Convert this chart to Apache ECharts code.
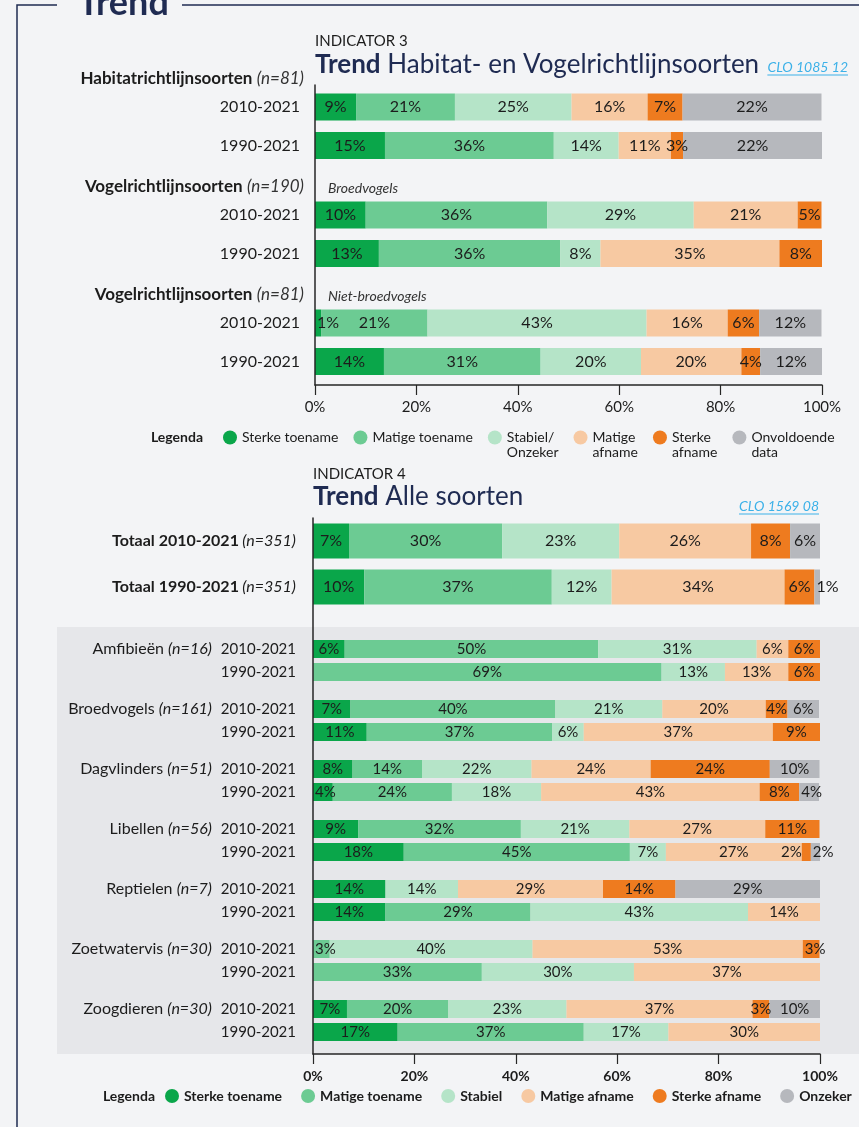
<!DOCTYPE html>
<html>
<head>
<meta charset="utf-8">
<script src="https://cdn.jsdelivr.net/npm/echarts@6/dist/echarts.min.js"></script>
<style>
html, body { margin: 0; padding: 0; background: #f3f4f6; }
#chart { width: 859px; height: 1127px; }
</style>
</head>
<body>
<div id="chart"></div>
<script>
// klassen en kleuren
var klassen3 = ['Sterke toename', 'Matige toename', 'Stabiel/Onzeker', 'Matige afname', 'Sterke afname', 'Onvoldoende data'];
var klassen3Legenda = ['Sterke toename', 'Matige toename', 'Stabiel/\nOnzeker', 'Matige\nafname', 'Sterke\nafname', 'Onvoldoende\ndata'];
var klassen4 = ['Sterke toename', 'Matige toename', 'Stabiel', 'Matige afname', 'Sterke afname', 'Onzeker'];
var kleuren = ['#0aa64a', '#6ccb93', '#b5e4c8', '#f7c9a2', '#ee7b1f', '#b6b8bd'];
var periodes = ['2010-2021', '1990-2021'];
var asLabels = [0, 20, 40, 60, 80, 100];

// indicator 3: groepen
var ind3Groepen = ['Habitatrichtlijnsoorten', 'Vogelrichtlijnsoorten', 'Vogelrichtlijnsoorten'];
var ind3Aantal = ['(n=81)', '(n=190)', '(n=81)'];
var ind3Sub = ['', 'Broedvogels', 'Niet-broedvogels'];
// balklengtes (%), rijen: H 2010, H 1990, V-broed 2010, V-broed 1990, V-niet 2010, V-niet 1990
var ind3SterkeToename = [8.1, 13.8, 10.0, 12.6, 1.2, 13.6];
var ind3MatigeToename = [19.5, 33.3, 35.8, 35.8, 21.0, 30.9];
var ind3Stabiel       = [23.0, 12.8, 28.9, 7.9, 43.2, 19.8];
var ind3MatigeAfname  = [15.0, 10.3, 20.5, 35.3, 16.0, 19.8];
var ind3SterkeAfname  = [6.9, 2.4, 4.7, 8.4, 6.2, 3.7];
var ind3Onvoldoende   = [27.4, 27.4, 0, 0, 12.3, 12.3];
// gedrukte percentages per rij
var ind3Labels = [
  [9, 21, 25, 16, 7, 22],
  [15, 36, 14, 11, 3, 22],
  [10, 36, 29, 21, 5, 0],
  [13, 36, 8, 35, 8, 0],
  [1, 21, 43, 16, 6, 12],
  [14, 31, 20, 20, 4, 12]
];

// indicator 4
var ind4Totaal = ['Totaal 2010-2021', 'Totaal 1990-2021'];
var ind4TotaalAantal = '(n=351)';
var ind4Soorten = ['Amfibieën', 'Broedvogels', 'Dagvlinders', 'Libellen', 'Reptielen', 'Zoetwatervis', 'Zoogdieren'];
var ind4Aantal = ['(n=16)', '(n=161)', '(n=51)', '(n=56)', '(n=7)', '(n=30)', '(n=30)'];
// rijen: totaal 2010, totaal 1990, daarna per soort 2010 en 1990
var ind4SterkeToename = [7.1, 10.1, 6.25, 0, 7.4, 10.6, 7.8, 3.9, 8.9, 17.9, 14.3, 14.3, 0, 0, 6.7, 16.7];
var ind4MatigeToename = [30.2, 37.0, 50.0, 68.75, 40.4, 36.6, 13.7, 23.5, 32.1, 44.6, 0, 28.6, 3.3, 33.3, 20.0, 36.7];
var ind4Stabiel       = [23.1, 11.8, 31.25, 12.5, 21.1, 6.2, 21.6, 17.6, 21.4, 7.1, 14.3, 42.9, 40.0, 30.0, 23.3, 16.7];
var ind4MatigeAfname  = [26.0, 34.1, 6.25, 12.5, 20.4, 37.3, 23.5, 43.1, 26.8, 26.8, 28.6, 14.3, 53.3, 36.7, 36.7, 30.0];
var ind4SterkeAfname  = [7.7, 5.9, 6.25, 6.25, 4.3, 9.3, 23.5, 7.8, 10.7, 1.8, 14.3, 0, 3.3, 0, 3.3, 0];
var ind4Onzeker       = [5.9, 1.1, 0, 0, 6.2, 0, 9.8, 3.9, 0, 1.8, 28.6, 0, 0, 0, 10.0, 0];

var ind3Kolommen = [ind3SterkeToename, ind3MatigeToename, ind3Stabiel, ind3MatigeAfname, ind3SterkeAfname, ind3Onvoldoende];
var ind4Kolommen = [ind4SterkeToename, ind4MatigeToename, ind4Stabiel, ind4MatigeAfname, ind4SterkeAfname, ind4Onzeker];

// opmaak
var FONT = 'Lato, "Noto Sans", sans-serif';
var NAVY = '#1f2b52';
var INK = '#1c1c1c';
var LINK = '#3cb1e8';

var i3Left = 315, i3Width = 507, i3AsTop = 85, i3AsBodem = 385;
var i3Rij0 = [107, 215, 323], i3Pitch = 38.5, i3Balk = 27;
var i4Left = 313, i4Width = 507, i4AsTop = 518, i4AsBodem = 1054;
var i4TotaalRij0 = 541, i4TotaalPitch = 46, i4TotaalBalk = 35;
var i4SoortRij0 = 649, i4SoortStap = 60, i4SoortPitch = 23, i4SoortBalk = 18;

var grids = [], xAxes = [], yAxes = [], series = [], graphics = [];

function tekstBreedte(t, font) {
  var c = document.createElement('canvas').getContext('2d');
  c.font = font;
  return c.measureText(t).width;
}

function txt(x, y, text, o) {
  o = o || {};
  var style = {
    text: text, fill: o.fill || INK,
    fontSize: o.size || 14, fontWeight: o.weight || 'normal', fontStyle: o.italic ? 'italic' : 'normal',
    fontFamily: FONT,
    align: o.align || 'left', verticalAlign: 'middle',
    textAlign: o.align || 'left', textVerticalAlign: 'middle'
  };
  if (o.rich) style.rich = o.rich;
  graphics.push({ type: 'text', x: x, y: y, z: 10, style: style });
}

// plaats van een label in een smal segment (past het label er niet in)
function labelPlek(kolommen, rij, k) {
  var v = kolommen[k][rij];
  if (v >= 4) return null;
  var eerste = true, volgende = null;
  for (var j = 0; j < kolommen.length; j++) {
    if (j < k && kolommen[j][rij] > 0) eerste = false;
    if (j > k && kolommen[j][rij] > 0 && volgende === null) volgende = kolommen[j][rij];
  }
  if (volgende === null || eerste) return { position: 'insideLeft', distance: 2 };
  if (volgende < 4) return { position: 'left', distance: 0 };
  return null;
}

// raamwerk-assen (volledige as-lijnen + tickwaarden)
function raamAssen(left, width, top, bodem, labelStyle) {
  var gi = grids.length;
  grids.push({ left: left, width: width, top: top, height: bodem - top });
  xAxes.push({
    gridIndex: gi, type: 'value', min: 0, max: 100, interval: 20, z: 5,
    axisLine: { show: true, lineStyle: { color: '#262626', width: 1.5 } },
    axisTick: { show: true, length: 10, lineStyle: { color: '#262626', width: 1.2 } },
    axisLabel: Object.assign({ margin: 15, formatter: function (v) { return asLabels.indexOf(v) >= 0 ? v + '%' : ''; }, color: INK, fontFamily: FONT }, labelStyle),
    splitLine: { show: false }
  });
  yAxes.push({
    gridIndex: gi, type: 'value', min: 0, max: 1, z: 5,
    axisLine: { show: true, lineStyle: { color: '#262626', width: 1.5 } },
    axisTick: { show: false }, axisLabel: { show: false }, splitLine: { show: false }
  });
}

// een blok van twee gestapelde balken
function balkBlok(left, width, midden0, pitch, balk, namen, kolommen, rij0, yLabels, asLabel, fontSize, labelFn) {
  var gi = grids.length;
  grids.push({ left: left, width: width, top: midden0 - pitch / 2, height: pitch * 2 });
  xAxes.push({ gridIndex: gi, type: 'value', min: 0, max: 100, show: false });
  yAxes.push({
    gridIndex: gi, type: 'category', inverse: true, data: yLabels,
    axisLine: { show: false }, axisTick: { show: false }, splitLine: { show: false },
    axisLabel: asLabel
  });
  kolommen.forEach(function (kol, k) {
    var data = [rij0, rij0 + 1].map(function (rij) {
      var item = { value: kol[rij] };
      var plek = labelPlek(kolommen, rij, k);
      if (plek) item.label = plek;
      return item;
    });
    series.push({
      type: 'bar', name: namen[k], stack: 'blok' + gi, xAxisIndex: gi, yAxisIndex: gi,
      barWidth: balk, silent: true,
      itemStyle: { color: kleuren[k] },
      label: {
        show: true, position: 'inside', fontSize: fontSize, color: INK, fontFamily: FONT,
        formatter: function (p) { return labelFn(rij0 + p.dataIndex, k, p.value); }
      },
      data: data
    });
  });
}

// ---------- kader ----------
graphics.push({ type: 'rect', z: -10, shape: { x: 57, y: 627, width: 802, height: 427 }, style: { fill: '#e6e7ea' } });
graphics.push({ type: 'polyline', z: 10, shape: { points: [[17, 1127], [17, 5], [57, 5]] }, style: { stroke: NAVY, lineWidth: 1.5, fill: null } });
graphics.push({ type: 'line', z: 10, shape: { x1: 182, y1: 5, x2: 859, y2: 5 }, style: { stroke: NAVY, lineWidth: 1.5 } });
txt(78, 3, 'Trend', { size: 36, weight: 'bold', fill: NAVY });

// ---------- indicator 3 ----------
txt(315, 41, 'INDICATOR 3', { size: 15 });
txt(315, 65, '{b|Trend} {r|Habitat- en Vogelrichtlijnsoorten}', {
  size: 26, fill: NAVY,
  rich: { b: { fontSize: 26, fontWeight: 'bold', fontFamily: FONT, fill: NAVY }, r: { fontSize: 26, fontFamily: FONT, fill: NAVY } }
});
var link3 = 'CLO 1085 12';
txt(848, 67, link3, { size: 14, italic: true, fill: LINK, align: 'right' });
var w3 = tekstBreedte(link3, 'italic 14px ' + FONT);
graphics.push({ type: 'line', z: 10, shape: { x1: 848 - w3, y1: 75, x2: 848, y2: 75 }, style: { stroke: LINK, lineWidth: 1 } });

raamAssen(i3Left, i3Width, i3AsTop, i3AsBodem, { fontSize: 15 });

var ind3Rijlabel = { margin: 15, fontSize: 16, color: INK, fontFamily: FONT };
i3Rij0.forEach(function (m, g) {
  txt(304, m - 28, '{b|' + ind3Groepen[g] + '} {i|' + ind3Aantal[g] + '}', {
    size: 17,
    rich: {
      b: { fontSize: 17, fontWeight: 'bold', fontFamily: FONT, fill: INK },
      i: { fontSize: 17, fontStyle: 'italic', fontFamily: FONT, fill: '#333' }
    },
    align: 'right'
  });
  if (ind3Sub[g]) txt(328, m - 27, ind3Sub[g], { size: 14, italic: true, fill: '#333' });
  balkBlok(i3Left, i3Width, m, i3Pitch, i3Balk, klassen3, ind3Kolommen, g * 2, periodes, ind3Rijlabel, 16,
    function (rij, k) { var v = ind3Labels[rij][k]; return v > 0 ? v + '%' : ''; });
});

txt(203, 437, 'Legenda', { size: 14, weight: 'bold', align: 'right' });

// ---------- indicator 4 ----------
txt(313, 474, 'INDICATOR 4', { size: 15 });
txt(313, 497, '{b|Trend} {r|Alle soorten}', {
  size: 26, fill: NAVY,
  rich: { b: { fontSize: 26, fontWeight: 'bold', fontFamily: FONT, fill: NAVY }, r: { fontSize: 26, fontFamily: FONT, fill: NAVY } }
});
var link4 = 'CLO 1569 08';
txt(819, 506, link4, { size: 14, italic: true, fill: LINK, align: 'right' });
var w4 = tekstBreedte(link4, 'italic 14px ' + FONT);
graphics.push({ type: 'line', z: 10, shape: { x1: 819 - w4, y1: 514, x2: 819, y2: 514 }, style: { stroke: LINK, lineWidth: 1 } });

raamAssen(i4Left, i4Width, i4AsTop, i4AsBodem, { fontSize: 14, fontWeight: 'bold' });

var afgerond = function (rij, k, v) { return v > 0 ? Math.round(v) + '%' : ''; };

balkBlok(i4Left, i4Width, i4TotaalRij0, i4TotaalPitch, i4TotaalBalk, klassen4, ind4Kolommen, 0, ind4Totaal, {
  margin: 17,
  formatter: function (v) { return '{b|' + v + '} {i|' + ind4TotaalAantal + '}'; },
  rich: {
    b: { fontSize: 16, fontWeight: 'bold', fontFamily: FONT, color: INK },
    i: { fontSize: 16, fontStyle: 'italic', fontFamily: FONT, color: INK }
  }
}, 16, afgerond);

ind4Soorten.forEach(function (soort, s) {
  balkBlok(i4Left, i4Width, i4SoortRij0 + s * i4SoortStap, i4SoortPitch, i4SoortBalk, klassen4, ind4Kolommen, 2 + s * 2, periodes, {
    margin: 17,
    formatter: function (v, i) {
      return i === 0 ? '{s|' + soort + ' }{i|' + ind4Aantal[s] + '}{p|' + v + '}' : '{p|' + v + '}';
    },
    rich: {
      s: { fontSize: 16, fontFamily: FONT, color: INK },
      i: { fontSize: 16, fontStyle: 'italic', fontFamily: FONT, color: INK },
      p: { fontSize: 15, fontFamily: FONT, color: INK, padding: [0, 0, 0, 9] }
    }
  }, 15, afgerond);
});

txt(155, 1096, 'Legenda', { size: 14, weight: 'bold', align: 'right' });

var option = {
  backgroundColor: '#f3f4f6',
  animation: false,
  grid: grids,
  xAxis: xAxes,
  yAxis: yAxes,
  series: series,
  legend: [
    {
      left: 223, top: 415, padding: 0, icon: 'circle', itemWidth: 14, itemHeight: 14, itemGap: 15, selectedMode: false,
      data: klassen3,
      formatter: function (name) {
        var t = klassen3Legenda[klassen3.indexOf(name)];
        return ' \n' + t + (t.indexOf('\n') < 0 ? '\n ' : '');
      },
      textStyle: { fontSize: 14, lineHeight: 15, color: INK, fontFamily: FONT }
    },
    {
      left: 165, top: 1089, padding: 0, icon: 'circle', itemWidth: 14, itemHeight: 14, itemGap: 19, selectedMode: false,
      data: klassen4,
      textStyle: { fontSize: 14, fontWeight: 'bold', color: INK, fontFamily: FONT }
    }
  ],
  graphic: { elements: graphics }
};

var chart = echarts.init(document.getElementById('chart'));
chart.setOption(option);
</script>
</body>
</html>
